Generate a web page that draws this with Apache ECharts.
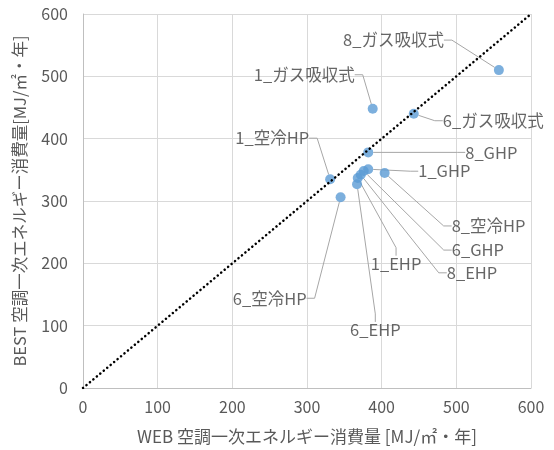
<!DOCTYPE html>
<html>
<head>
<meta charset="utf-8">
<script src="https://cdn.jsdelivr.net/npm/echarts@6/dist/echarts.min.js"></script>
<style>
  html, body { margin: 0; padding: 0; background: #fff; }
  #chart { width: 554px; height: 450px; }
</style>
</head>
<body>
<div id="chart"></div>
<script>
  // data
  const names = ['8_ガス吸収式', '1_ガス吸収式', '6_ガス吸収式', '1_空冷HP', '8_GHP', '1_GHP',
                 '8_空冷HP', '6_GHP', '8_EHP', '1_EHP', '6_EHP', '6_空冷HP']
  const webValues = [557, 388, 443, 331, 382, 382, 404, 376, 372, 368, 367, 345]
  const bestValues = [510, 448, 440, 335, 378, 351, 345, 348, 342, 337, 327, 306]
  const tickValues = [0, 100, 200, 300, 400, 500, 600]

  // label placement relative to the point (px), Excel style leader lines
  const labelOffsets = [
    [-55, -30, 'right'],
    [-18, -34, 'right'],
    [29, 7, 'left'],
    [-21, -41, 'right'],
    [97, 0, 'left'],
    [50, 2, 'left'],
    [67, 53, 'left'],
    [88, 79, 'left'],
    [86, 98, 'left'],
    [13, 86, 'left'],
    [-7, 146, 'left'],
    [-34, 101, 'right']
  ]

  const font = '"Noto Sans CJK JP", "Noto Sans", sans-serif'
  const chart = echarts.init(document.getElementById('chart'))

  const axisCommon = {
    type: 'value',
    min: tickValues[0],
    max: tickValues[tickValues.length - 1],
    interval: 100,
    nameLocation: 'middle',
    axisLine: { show: true, lineStyle: { color: '#bfbfbf', width: 1 } },
    axisTick: { show: false },
    splitLine: { show: true, lineStyle: { color: '#d9d9d9', width: 1 } }
  }

  chart.setOption({
    animation: false,
    grid: { left: 83, right: 23, top: 14, bottom: 62 },
    xAxis: Object.assign({}, axisCommon, {
      name: 'WEB 空調一次エネルギー消費量 [MJ/㎡・年]',
      nameGap: 40,
      nameTextStyle: { color: '#595959', fontFamily: font, fontSize: 17 },
      axisLabel: { color: '#595959', fontSize: 16, fontFamily: font, margin: 11 }
    }),
    yAxis: Object.assign({}, axisCommon, {
      name: 'BEST 空調一次エネルギー消費量[MJ/㎡・年]',
      nameGap: 55,
      nameTextStyle: { color: '#595959', fontFamily: font, fontSize: 16.5 },
      axisLabel: { color: '#595959', fontSize: 16, fontFamily: font, margin: 15 }
    }),
    series: [
      {
        type: 'scatter',
        symbolSize: 10,
        itemStyle: { color: '#5b9bd5' },
        data: names.map((n, i) => ({ name: n, value: [webValues[i], bestValues[i]] })),
        label: {
          show: true,
          formatter: '{b}',
          color: '#404040',
          fontSize: 16.5,
          fontFamily: font
        },
        labelLine: {
          show: true,
          length2: 8,
          lineStyle: { color: '#a6a6a6', width: 1 }
        },
        labelLayout: function (p) {
          const o = labelOffsets[p.dataIndex]
          const cx = p.rect.x + p.rect.width / 2
          const cy = p.rect.y + p.rect.height / 2
          return { x: cx + o[0], y: cy + o[1], align: o[2], verticalAlign: 'middle' }
        },
        z: 2
      },
      {
        type: 'line',
        data: [[tickValues[0], tickValues[0]], [tickValues[6], tickValues[6]]],
        symbol: 'none',
        silent: true,
        lineStyle: { color: '#000', width: 2.5, type: [0.1, 4.4], cap: 'round' },
        z: 3
      }
    ]
  })
</script>
</body>
</html>
